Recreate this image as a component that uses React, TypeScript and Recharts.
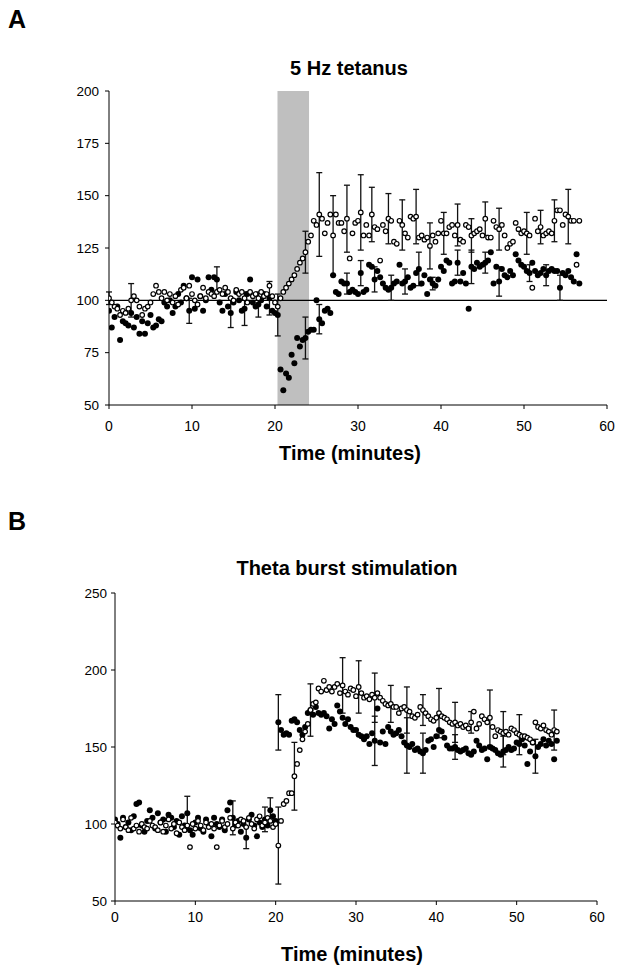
import { ScatterChart, Scatter, XAxis, YAxis, ErrorBar, ReferenceArea, ReferenceLine } from "recharts";

// one sweep every 20 s -> three points per minute
const SWEEPS_PER_MIN = 3;

const timeTicks = [0, 10, 20, 30, 40, 50, 60];
const ticksA = [50, 75, 100, 125, 150, 175, 200];
const ticksB = [50, 100, 150, 200, 250];
const tetanus = [20.3, 24.1];

// A: 5 Hz tetanus, % baseline
const openA = [
  101, 99, 97, 96, 93, 95, 94, 96, 100, 102, 100, 97, 93, 96, 97, 99, 103, 107,
  104, 101, 104, 100, 103, 99, 102, 98, 105, 106, 101, 107, 103, 100, 98, 102, 106, 101,
  104, 103, 102, 104, 105, 103, 106, 104, 101, 100, 105, 103, 104, 101, 99, 104, 102, 103,
  101, 104, 102, 103, 107, 102, 99, 97, 101, 104, 106, 108, 110, 112, 115, 118, 120, 123,
  128, 131, 138, 136, 141, 139, 132, 137, 141, 131, 141, 137, 137, 133, 139, 120, 132, 137,
  138, 142, 131, 136, 131, 141, 135, 134, 119, 136, 133, 139, 138, 128, 127, 138, 136, 132,
  130, 140, 139, 140, 130, 131, 129, 130, 126, 131, 128, 132, 138, 132, 132, 135, 136, 131,
  136, 129, 128, 136, 135, 131, 132, 133, 134, 131, 139, 130, 130, 138, 135, 134, 136, 131,
  125, 127, 128, 137, 134, 132, 133, 132, 131, 106, 139, 133, 135, 131, 132, 133, 132, 138,
  143, 143, 136, 141, 140, 138, 138, 117, 138,
];
const filledA = [
  95, 87, 92, 97, 81, 90, 89, 88, 94, 87, 92, 84, 90, 84, 89, 93, 87, 88,
  91, 90, 99, 97, 100, 94, 97, 103, 99, 107, 101, 95, 111, 96, 110, 102, 95, 100,
  111, 105, 111, 110, 99, 95, 103, 97, 94, 99, 104, 100, 95, 96, 103, 110, 99, 97,
  98, 100, 103, 97, 101, 95, 94, 93, 67, 57, 65, 63, 74, 70, 82, 78, 81, 82,
  85, 86, 86, 100, 91, 89, 95, 96, 94, 112, 104, 103, 109, 108, 108, 104, 105, 104,
  103, 113, 104, 105, 117, 116, 110, 114, 111, 108, 106, 105, 106, 108, 109, 117, 108, 109,
  111, 106, 107, 113, 115, 108, 112, 103, 110, 108, 107, 110, 116, 114, 119, 118, 108, 109,
  118, 109, 113, 108, 96, 116, 115, 118, 116, 117, 118, 119, 123, 108, 116, 109, 115, 112,
  111, 114, 112, 122, 119, 117, 116, 114, 113, 118, 114, 112, 113, 115, 112, 114, 115, 114,
  114, 106, 113, 112, 114, 111, 109, 122, 108,
];
// [sweep index, s.e.m.]
const openAErr: [number, number][] = [
  [0, 3], [8, 8], [71, 10], [76, 20], [81, 19], [86, 16], [91, 18], [95, 13], [101, 12],
  [106, 12], [111, 13], [116, 11], [121, 10], [126, 10], [131, 8], [136, 8], [141, 10],
  [151, 10], [156, 8], [161, 10], [166, 13],
];
const filledAErr: [number, number][] = [
  [29, 6], [39, 6], [44, 7], [49, 8], [54, 6], [58, 8], [61, 10], [71, 10], [76, 7],
  [86, 5], [91, 6], [96, 6], [102, 6], [107, 6], [112, 8], [117, 3], [126, 6], [131, 8],
  [136, 5], [141, 7], [152, 4], [158, 5], [163, 6],
];

// B: theta burst stimulation, % baseline
const openB = [
  101, 99, 97, 103, 98, 96, 104, 97, 99, 95, 100, 98, 97, 102, 99, 98, 96, 101,
  95, 99, 103, 97, 100, 94, 101, 98, 96, 99, 85, 100, 97, 102, 99, 96, 101, 98,
  100, 97, 85, 99, 102, 98, 100, 104, 97, 101, 99, 103, 102, 98, 104, 100, 97, 103,
  105, 99, 101, 104, 102, 98, 100, 86, 102, 113, 115, 120, 120, 131, 139, 148, 155, 160,
  165, 174, 178, 179, 188, 186, 193, 187, 189, 186, 189, 191, 185, 190, 186, 184, 188, 187,
  183, 189, 185, 182, 183, 181, 184, 182, 185, 182, 180, 178, 177, 178, 176, 176, 172, 175,
  176, 174, 173, 170, 169, 171, 176, 174, 172, 170, 168, 167, 169, 172, 170, 169, 168, 166,
  165, 166, 164, 165, 163, 164, 162, 166, 173, 162, 165, 170, 168, 166, 169, 163, 157, 161,
  160, 159, 160, 158, 162, 161, 159, 158, 157, 157, 156, 155, 153, 166, 163, 162, 164, 161,
  160, 158, 161, 160,
];
const filledB = [
  103, 100, 91, 104, 98, 101, 96, 105, 113, 114, 99, 95, 102, 109, 104, 97, 107, 101,
  103, 95, 106, 104, 98, 102, 93, 105, 99, 107, 96, 93, 101, 104, 97, 95, 103, 99,
  92, 104, 100, 98, 103, 96, 109, 114, 104, 99, 102, 95, 100, 91, 103, 106, 99, 92,
  101, 98, 103, 99, 109, 105, 102, 166, 161, 158, 159, 158, 167, 168, 166, 161, 158, 163,
  172, 174, 171, 176, 172, 171, 172, 170, 162, 168, 165, 177, 173, 169, 165, 168, 163, 161,
  161, 158, 157, 155, 157, 152, 159, 154, 175, 153, 160, 152, 163, 160, 158, 159, 161, 157,
  153, 151, 150, 152, 148, 149, 147, 146, 148, 154, 155, 150, 157, 161, 160, 156, 151, 149,
  149, 150, 148, 147, 148, 149, 146, 145, 147, 154, 151, 148, 149, 142, 150, 149, 148, 146,
  145, 147, 148, 150, 148, 149, 153, 152, 155, 151, 139, 147, 153, 144, 150, 152, 155, 151,
  154, 152, 142, 154,
];
const openBErr: [number, number][] = [
  [61, 25], [67, 22], [85, 18], [91, 17], [97, 16], [103, 12], [109, 15], [115, 10],
  [121, 16], [127, 13], [133, 7], [140, 18], [145, 14], [151, 13], [164, 13],
];
const filledBErr: [number, number][] = [
  [27, 11], [44, 11], [49, 7], [56, 8], [58, 8], [61, 18], [73, 17], [97, 16], [109, 18],
  [115, 13], [127, 8], [145, 10], [157, 11],
];

type Pt = { t: number; v: number; err?: number };

function toPoints(values: number[], errs: [number, number][]): Pt[] {
  const errAt = new Map(errs);
  return values.map((v, i) => ({ t: i / SWEEPS_PER_MIN, v, err: errAt.get(i) }));
}

const FilledDot = (p: any) => <circle cx={p.cx} cy={p.cy} r={3} fill="#000" />;
const OpenDot = (p: any) => (
  <circle cx={p.cx} cy={p.cy} r={2.3} fill="#fff" stroke="#000" strokeWidth={1.2} />
);

interface PanelProps {
  top: number;
  height: number;
  margin: { top: number; right: number; bottom: number; left: number };
  open: Pt[];
  filled: Pt[];
  yDomain: [number, number];
  yTicks: number[];
  yTickMargin: number;
  xTickMargin: number;
  showTetanus?: boolean;
}

function Panel({ top, height, margin, open, filled, yDomain, yTicks, yTickMargin, xTickMargin, showTetanus }: PanelProps) {
  return (
    <div style={{ position: "absolute", left: 0, top }}>
      <ScatterChart width={617} height={height} margin={margin}>
        <XAxis
          type="number"
          dataKey="t"
          domain={[0, 60]}
          ticks={timeTicks}
          interval={0}
          allowDataOverflow
          height={40}
          tickSize={4}
          tickMargin={xTickMargin}
          axisLine={{ stroke: "#000" }}
          tickLine={{ stroke: "#000" }}
          tick={{ fontSize: 14, fill: "#000", fontFamily: "Arial" }}
        />
        <YAxis
          type="number"
          dataKey="v"
          domain={yDomain}
          ticks={yTicks}
          interval={0}
          allowDataOverflow
          width={50}
          tickSize={4}
          tickMargin={yTickMargin}
          axisLine={{ stroke: "#000" }}
          tickLine={{ stroke: "#000" }}
          tick={{ fontSize: 13.5, fill: "#000", fontFamily: "Arial" }}
        />
        {showTetanus && (
          <ReferenceArea x1={tetanus[0]} x2={tetanus[1]} fill="#bfbfbf" fillOpacity={1} stroke="none" />
        )}
        {showTetanus && <ReferenceLine y={100} stroke="#000" strokeWidth={1.4} />}
        <Scatter data={filled} shape={FilledDot} isAnimationActive={false}>
          <ErrorBar dataKey="err" direction="y" width={3} stroke="#111" strokeWidth={1.3} />
        </Scatter>
        <Scatter data={open} shape={OpenDot} isAnimationActive={false}>
          <ErrorBar dataKey="err" direction="y" width={3} stroke="#111" strokeWidth={1.3} />
        </Scatter>
      </ScatterChart>
    </div>
  );
}

export default function App() {
  const bold = { fontFamily: "Arial", fontWeight: 700, fill: "#000" } as const;
  return (
    <div style={{ position: "absolute", left: 0, top: 0, width: 617, height: 965, background: "#fff" }}>
      <Panel
        top={0}
        height={470}
        margin={{ top: 91, right: 10, bottom: 25, left: 59 }}
        open={toPoints(openA, openAErr)}
        filled={toPoints(filledA, filledAErr)}
        yDomain={[50, 200]}
        yTicks={ticksA}
        yTickMargin={6}
        xTickMargin={12}
        showTetanus
      />
      <Panel
        top={500}
        height={465}
        margin={{ top: 93, right: 20, bottom: 24, left: 65 }}
        open={toPoints(openB, openBErr)}
        filled={toPoints(filledB, filledBErr)}
        yDomain={[50, 250]}
        yTicks={ticksB}
        yTickMargin={4}
        xTickMargin={7}
      />
      <svg width={617} height={965} style={{ position: "absolute", left: 0, top: 0, pointerEvents: "none" }}>
        <text x={8} y={28} fontSize={25} {...bold}>A</text>
        <text x={349} y={75} fontSize={20} textAnchor="middle" {...bold}>5 Hz tetanus</text>
        <text x={350} y={460} fontSize={20} textAnchor="middle" {...bold}>Time (minutes)</text>
        <text x={8} y={530} fontSize={25} {...bold}>B</text>
        <text x={347} y={575} fontSize={20} textAnchor="middle" {...bold}>Theta burst stimulation</text>
        <text x={352} y={961} fontSize={20} textAnchor="middle" {...bold}>Time (minutes)</text>
      </svg>
    </div>
  );
}
